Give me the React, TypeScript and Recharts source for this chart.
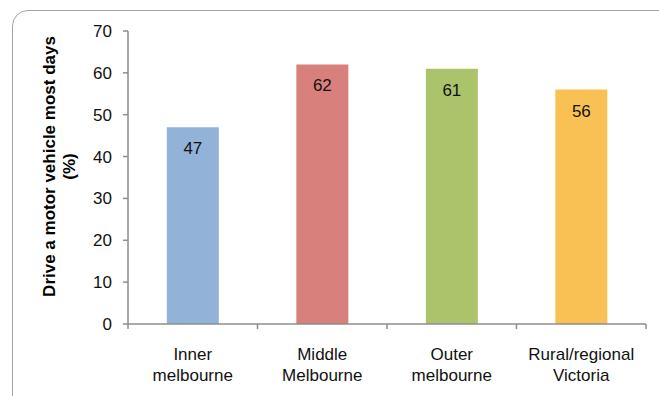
import { BarChart, Bar, XAxis, YAxis, Cell, LabelList } from "recharts"

const regions = ["Inner melbourne", "Middle Melbourne", "Outer melbourne", "Rural/regional Victoria"]
const regionLines = [["Inner", "melbourne"], ["Middle", "Melbourne"], ["Outer", "melbourne"], ["Rural/regional", "Victoria"]]
const driveMostDays = [47, 62, 61, 56]
const barColors = ["#93B2D7", "#D7807C", "#ABC46B", "#F9C153"]
const yTicks = [0, 10, 20, 30, 40, 50, 60, 70]

const FONT = "'Liberation Sans', Arial, sans-serif"
const AXIS = "#8e8e8e"
const INK = "#111"
const W = 659
const H = 396
const margin = { top: 31, right: 13, bottom: 0, left: 0 }
const Y_AXIS_W = 128
const X_AXIS_H = 72
const band = (W - margin.right - Y_AXIS_W) / regions.length

const data = regions.map((name, i) => ({ name, value: driveMostDays[i] }))

function RegionTick(props: any) {
  const { x, y, payload, index } = props
  const lines = regionLines[index] ?? [payload.value]
  return (
    <g>
      <line x1={x - band / 2} x2={x - band / 2} y1={y} y2={y + 5} stroke={AXIS} strokeWidth={1.5} />
      {index === regions.length - 1 && (
        <line x1={x + band / 2} x2={x + band / 2} y1={y} y2={y + 5} stroke={AXIS} strokeWidth={1.5} />
      )}
      {lines.map((t: string, i: number) => (
        <text key={i} x={x} y={y + 35.5 + i * 21.5} textAnchor="middle" fontSize={17} fill={INK} fontFamily={FONT}>
          {t}
        </text>
      ))}
    </g>
  )
}

function PercentTick(props: any) {
  const { x, y, payload } = props
  return (
    <text x={x} y={y} dy="0.355em" textAnchor="end" fontSize={17} fill={INK} fontFamily={FONT}>
      {payload.value}
    </text>
  )
}

function YTitle(props: any) {
  const vb = props.viewBox
  const cx = 55
  const cy = vb.y + vb.height / 2 - 11
  return (
    <text
      x={cx}
      y={cy}
      transform={`rotate(-90, ${cx}, ${cy})`}
      textAnchor="middle"
      fontSize={17}
      fontWeight="bold"
      fill="#000"
      fontFamily={FONT}
    >
      <tspan x={cx}>Drive a motor vehicle most days</tspan>
      <tspan x={cx} dy={20}>(%)</tspan>
    </text>
  )
}

function ValueLabel(props: any) {
  const { x, y, width, value } = props
  return (
    <text x={x + width / 2} y={y + 27} textAnchor="middle" fontSize={17} fill={INK} fontFamily={FONT}>
      {value}
    </text>
  )
}

export default function App() {
  return (
    <div style={{ position: "fixed", left: 0, top: 0, width: W, height: H, overflow: "hidden", background: "#fff" }}>
      {/* rounded frame, runs off the right and bottom edges */}
      <div
        style={{
          position: "absolute",
          left: 12,
          top: 10,
          width: 700,
          height: 420,
          border: "1.5px solid #a3a3a3",
          borderRadius: 16,
          boxSizing: "border-box",
        }}
      />
      <div style={{ position: "absolute", left: 0, top: 0 }}>
        <BarChart width={W} height={H} data={data} margin={margin} barCategoryGap="30%">
          <XAxis
            dataKey="name"
            interval={0}
            height={X_AXIS_H}
            stroke={AXIS}
            strokeWidth={1.5}
            tickLine={false}
            tickSize={0}
            tickMargin={0}
            tick={<RegionTick />}
          />
          <YAxis
            width={Y_AXIS_W}
            domain={[0, 70]}
            ticks={yTicks}
            interval={0}
            stroke={AXIS}
            strokeWidth={1.5}
            tickSize={5}
            tickMargin={11}
            tick={<PercentTick />}
            label={<YTitle />}
          />
          <Bar dataKey="value" isAnimationActive={false}>
            {data.map((d, i) => (
              <Cell key={d.name} fill={barColors[i]} />
            ))}
            <LabelList dataKey="value" content={<ValueLabel />} />
          </Bar>
        </BarChart>
      </div>
    </div>
  )
}
